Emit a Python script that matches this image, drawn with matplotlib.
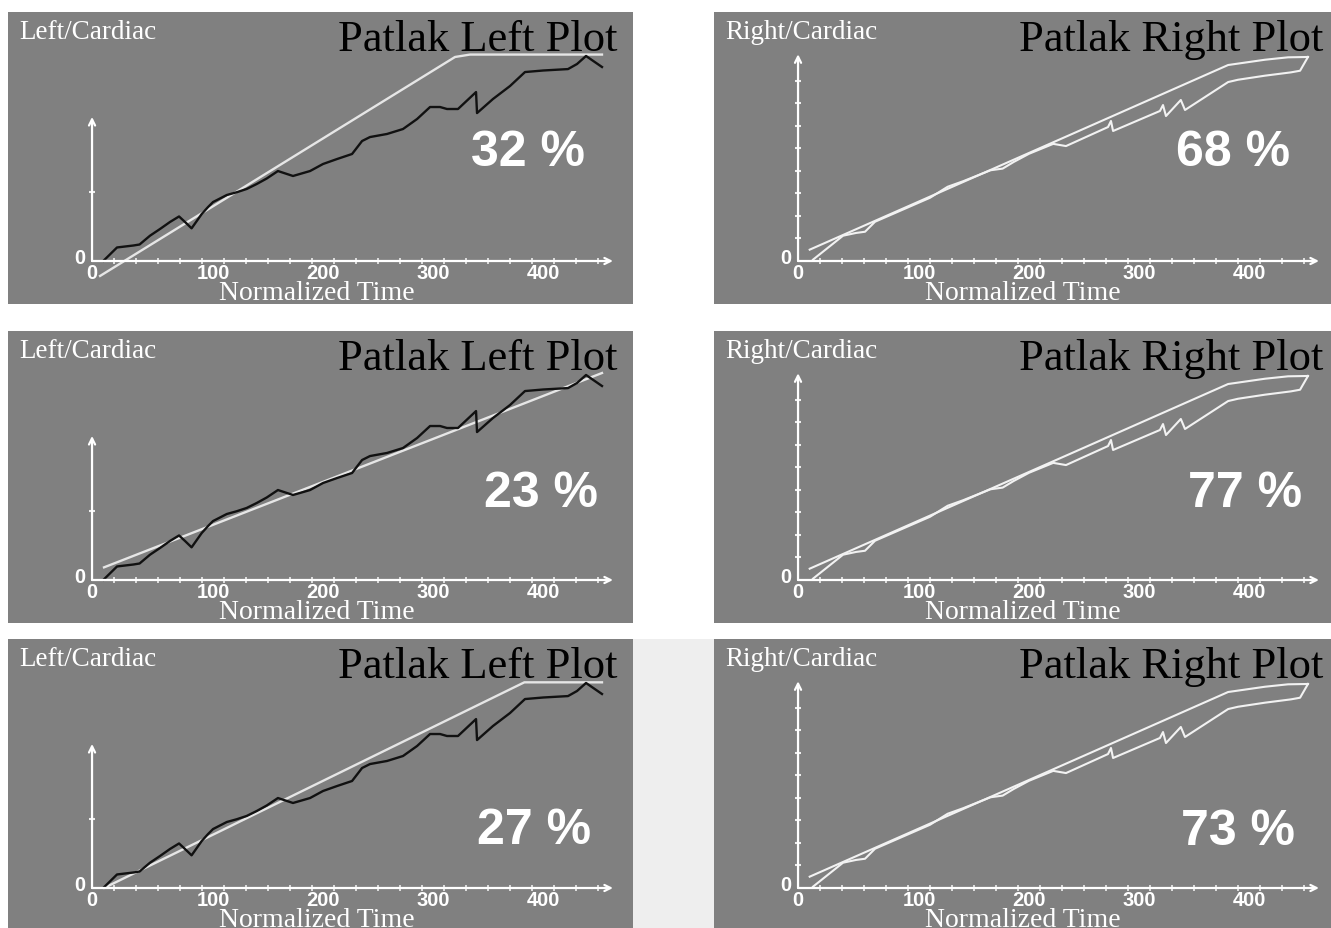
import matplotlib
matplotlib.use('Agg')
import matplotlib.pyplot as plt
from matplotlib.patches import Rectangle

# ---------------- data ----------------
# Left kidney / cardiac measured curve (same in all three left panels)
left_time = [10.5, 22.7, 37.7, 43.2, 52.7, 61.8, 70.9, 79.1, 84.5, 90.5, 99.7,
             105.5, 110, 122.5, 131.5, 140.6, 149.7, 158.8, 169, 182.7, 198.2,
             210, 222.7, 236.4, 245.5, 252.7, 268.2, 282.7, 295.5, 307.3, 316.4,
             322.7, 332.7, 349.1, 350, 364.5, 380, 393.6, 410, 432.7, 440.9,
             449.1, 463.6]
left_ratio = [0.3, 12.3, 14.1, 15, 23, 29.1, 35.5, 40.5, 35.5, 29.7, 42.7,
              49.1, 53.6, 60, 62.5, 65.5, 70, 75, 81.8, 77.3, 81.8,
              88.2, 92.7, 97.3, 109.1, 112.7, 115.5, 120, 129.1, 140, 140,
              138.2, 138.2, 153.6, 134.5, 147.3, 159.1, 171.8, 173.2, 174.5, 179.1,
              186.4, 176.4]

# Left fit lines, one per row
left_fit_time = [[7.3, 330, 343.6, 463.6],
                 [10.9, 463.6],
                 [10.9, 393, 463.6]]
left_fit_ratio = [[-13.6, 185.5, 187.7, 187.7],
                  [11.5, 188.2],
                  [0.0, 187, 187]]

# Right kidney / cardiac curves (same in all three right panels)
right_fit_time = [10.6, 245.5, 391, 424.5, 445.5, 463.6]
right_fit_ratio = [10.3, 113.9, 178.2, 183, 185.2, 185.5]
right_data_time = [13.6, 40.9, 52.7, 60.9, 70, 120, 136, 150, 175, 186, 196,
                   210, 232, 243.6, 281.8, 284.5, 286.4, 329, 331.8, 334.5,
                   348, 351.8, 391, 400, 424.5, 448, 456.4, 463.6]
right_data_ratio = [1.2, 23, 25.5, 26.6, 35.7, 57.5, 67.5, 72.5, 82.5, 84, 90,
                    97.5, 106.5, 104.5, 121.8, 127.3, 118.2, 136.4, 141.8, 131.8,
                    146.4, 137.3, 162.7, 164.8, 168.5, 171.5, 173, 185.5]

left_percents = ["32 %", "23 %", "27 %"]
right_percents = ["68 %", "77 %", "73 %"]
x_tick_labels = ["0", "100", "200", "300", "400"]
x_tick_values = [0, 100, 200, 300, 400]

# ---------------- layout ----------------
W, H = 1331, 929
fig = plt.figure(figsize=(W / 100, H / 100), dpi=100)
fig.patch.set_facecolor('white')

GRAY = '#808080'
PANEL_W, PANEL_H = 625, 292
row_tops = [13, 332, 640]
col_lefts = [8, 714]
XLIM = (-76.4, 491.8)
YLIM = (-39.1, 226.4)

# light strip between bottom panels
fig.patches.append(Rectangle((633 / W, 0), (714 - 633) / W, (929 - 640) / H,
                             transform=fig.transFigure, facecolor='#eeeeee',
                             edgecolor='none', zorder=0))

serif = ['Liberation Serif', 'DejaVu Serif']
narrow = ['Liberation Sans Narrow', 'Liberation Sans', 'DejaVu Sans']
pct_font = ['Liberation Sans', 'DejaVu Sans']

pct_pos_left = [(396, 99), (408, 79), (402, 52.6)]
pct_pos_right = [(395.5, 99), (406, 79), (400, 51.7)]


def draw_frame(ax, side):
    ax.set_facecolor(GRAY)
    ax.set_xlim(*XLIM)
    ax.set_ylim(*YLIM)
    ax.set_xticks([])
    ax.set_yticks([])
    for s in ax.spines.values():
        s.set_visible(False)
    ytop = 131 if side == 'L' else 188
    # axes with arrows
    ax.annotate('', xy=(473.6, 0), xytext=(0, 0),
                arrowprops=dict(arrowstyle='->', color='white', lw=1.6,
                                shrinkA=0, shrinkB=0, mutation_scale=11))
    ax.annotate('', xy=(0, ytop), xytext=(0, 0),
                arrowprops=dict(arrowstyle='->', color='white', lw=1.6,
                                shrinkA=0, shrinkB=0, mutation_scale=11))
    xt = list(range(20, 461, 20))
    ax.plot(xt, [0] * len(xt), ls='none', marker='|', ms=4, mew=1.2, color='#eeeeee')
    if side == 'L':
        yt = [62.7]
    else:
        yt = [20.5 * k for k in range(1, 9)]
    ax.plot([0] * len(yt), yt, ls='none', marker='_', ms=4, mew=1.5, color='#eeeeee')
    for v, lab in zip(x_tick_values, x_tick_labels):
        ax.text(v - 5, -10.4, lab, ha='left', va='center', color='white',
                fontsize=14.5, fontweight='bold', family=narrow)
    ax.text(-10.9, 3.6, '0', ha='center', va='center', color='white',
            fontsize=14.5, fontweight='bold', family=narrow)
    ax.text(204.5, -28.2, 'Normalized Time', ha='center', va='center',
            color='white', fontsize=20, family=serif)
    name = 'Left' if side == 'L' else 'Right'
    ax.text(-66.4, 208.5, name + '/Cardiac', ha='left', va='center',
            color='white', fontsize=19.5, family=serif)
    ax.text(478, 202, 'Patlak ' + name + ' Plot', ha='right', va='center',
            color='black', fontsize=32, family=serif)


for r, top in enumerate(row_tops):
    bottom = 1 - (top + PANEL_H) / H
    # left panel
    axL = fig.add_axes([col_lefts[0] / W, bottom, PANEL_W / W, PANEL_H / H])
    draw_frame(axL, 'L')
    axL.plot(left_fit_time[r], left_fit_ratio[r], color='#e6e6e6', lw=1.7)
    axL.plot(left_time, left_ratio, color='#111111', lw=1.7)
    px, py = pct_pos_left[r]
    axL.text(px, py, left_percents[r], ha='center', va='center', color='white',
             fontsize=36, fontweight='bold', family=pct_font)
    # right panel
    axR = fig.add_axes([col_lefts[1] / W, bottom, PANEL_W / W, PANEL_H / H])
    draw_frame(axR, 'R')
    axR.plot(right_fit_time, right_fit_ratio, color='#f2f2f2', lw=1.5)
    axR.plot(right_data_time, right_data_ratio, color='#f2f2f2', lw=1.5)
    px, py = pct_pos_right[r]
    axR.text(px, py, right_percents[r], ha='center', va='center', color='white',
             fontsize=36, fontweight='bold', family=pct_font)

fig.savefig('out.png', dpi=100, facecolor=fig.get_facecolor())
